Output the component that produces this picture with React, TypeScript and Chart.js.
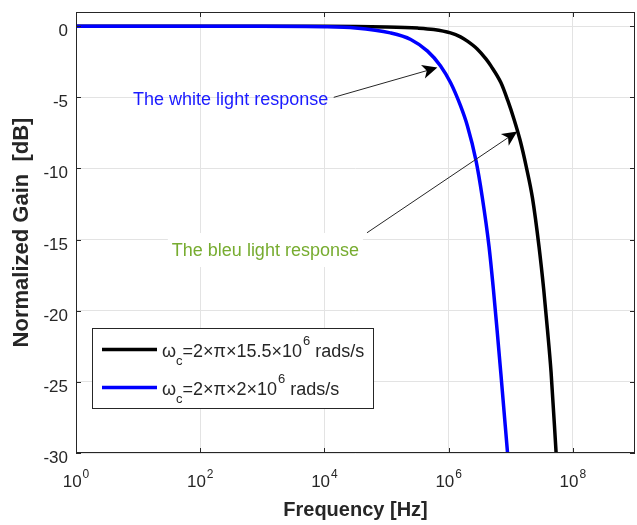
import React, { useEffect, useRef } from "react";
import { Chart, registerables } from "chart.js";
Chart.register(...registerables);

// ---- data ----
const blackFreq = [1, 1e4, 1e5, 3.16e5, 5.75e5, 1.07e6, 1.55e6, 2.0e6, 2.88e6, 3.98e6, 4.79e6, 6.92e6, 8.91e6, 1.12e7, 1.41e7, 1.78e7, 2.24e7, 2.85e7, 3.39e7, 3.89e7, 4.45e7, 5.37e7];
const blackGain = [0, 0, -0.05, -0.13, -0.23, -0.47, -0.75, -1.05, -1.6, -2.3, -2.79, -3.96, -5.2, -6.5, -8.0, -9.9, -12.1, -15.5, -18.5, -21.3, -24.3, -30];
const blueFreq = [1, 1e3, 1e4, 3.16e4, 1.15e5, 2.45e5, 4.57e5, 7.41e5, 1.07e6, 1.55e6, 2.0e6, 2.75e6, 3.47e6, 4.47e6, 5.25e6, 6.03e6, 6.92e6, 8.87e6];
const blueGain = [0, 0, -0.03, -0.12, -0.47, -0.93, -1.75, -2.79, -3.96, -5.59, -7.0, -9.43, -12.0, -15.5, -18.5, -21.4, -24.4, -30];

const xTickValues = [1, 1e2, 1e4, 1e6, 1e8];
const xTickExponents = ["0", "2", "4", "6", "8"];
const yTickValues = [-30, -25, -20, -15, -10, -5, 0];

// legend label pieces: base, subscript, middle, superscript, tail
const blackLabel = ["ω", "c", "=2×π×15.5×10", "6", " rads/s"];
const blueLabel = ["ω", "c", "=2×π×2×10", "6", " rads/s"];

const whiteText = "The white light response";
const whiteTextPos = [8.3, -5.17];
const bleuText = "The bleu light response";
const bleuTextPos = [34.9, -15.8];
const arrow1 = [[1.41e4, -5.0], [6.58e5, -2.91]];
const arrow2 = [[4.84e4, -14.52], [1.27e7, -7.4]];

const FONT = "'Liberation Sans', Arial, Helvetica, sans-serif";
const AXIS = "#262626";

function drawArrow(ctx: CanvasRenderingContext2D, x0: number, y0: number, x1: number, y1: number) {
  const dx = x1 - x0, dy = y1 - y0;
  const len = Math.hypot(dx, dy);
  const ux = dx / len, uy = dy / len;
  const nx = -uy, ny = ux;
  ctx.strokeStyle = AXIS;
  ctx.lineWidth = 1;
  ctx.beginPath();
  ctx.moveTo(x0, y0);
  ctx.lineTo(x1 - ux * 10, y1 - uy * 10);
  ctx.stroke();
  ctx.fillStyle = "#000";
  ctx.beginPath();
  ctx.moveTo(x1, y1);
  ctx.lineTo(x1 - ux * 15 + nx * 7, y1 - uy * 15 + ny * 7);
  ctx.lineTo(x1 - ux * 11, y1 - uy * 11);
  ctx.lineTo(x1 - ux * 15 - nx * 7, y1 - uy * 15 - ny * 7);
  ctx.closePath();
  ctx.fill();
}

const decor = {
  id: "decor",
  afterDatasetsDraw(chart: any) {
    const ctx: CanvasRenderingContext2D = chart.ctx;
    const { left, right, top, bottom } = chart.chartArea;
    const xs = chart.scales.x, ys = chart.scales.y;
    ctx.save();

    // annotation texts
    ctx.textBaseline = "middle";
    ctx.textAlign = "left";
    ctx.font = `18px ${FONT}`;
    {
      const x = xs.getPixelForValue(bleuTextPos[0]);
      const y = ys.getPixelForValue(bleuTextPos[1]);
      const w = ctx.measureText(bleuText).width;
      ctx.fillStyle = "#fff";
      ctx.fillRect(x - 4, y - 18, w + 8, 34);
      ctx.fillStyle = "#77ac30";
      ctx.fillText(bleuText, x, y);
    }
    {
      const x = xs.getPixelForValue(whiteTextPos[0]);
      const y = ys.getPixelForValue(whiteTextPos[1]);
      ctx.fillStyle = "#1a1aff";
      ctx.fillText(whiteText, x, y);
    }
    for (const a of [arrow1, arrow2]) {
      drawArrow(ctx, xs.getPixelForValue(a[0][0]), ys.getPixelForValue(a[0][1]), xs.getPixelForValue(a[1][0]), ys.getPixelForValue(a[1][1]));
    }

    // legend
    const bx = left + 16, by = bottom - 125, bw = 281, bh = 80;
    ctx.fillStyle = "#fff";
    ctx.fillRect(bx, by, bw, bh);
    ctx.strokeStyle = AXIS;
    ctx.lineWidth = 1;
    ctx.strokeRect(bx + 0.5, by + 0.5, bw, bh);
    const labels = [blackLabel, blueLabel];
    chart.data.datasets.forEach((ds: any, i: number) => {
      const ly = by + 21.5 + i * 38;
      ctx.strokeStyle = ds.borderColor;
      ctx.lineWidth = 3.5;
      ctx.beginPath();
      ctx.moveTo(bx + 10, ly);
      ctx.lineTo(bx + 65, ly);
      ctx.stroke();
      const parts = labels[i];
      const base = ly + 7;
      let tx = bx + 70;
      ctx.fillStyle = AXIS;
      ctx.textBaseline = "alphabetic";
      ctx.font = `18px ${FONT}`;
      ctx.fillText(parts[0], tx, base);
      tx += ctx.measureText(parts[0]).width;
      ctx.font = `13px ${FONT}`;
      ctx.fillText(parts[1], tx, base + 8);
      tx += ctx.measureText(parts[1]).width;
      ctx.font = `18px ${FONT}`;
      ctx.fillText(parts[2], tx, base);
      tx += ctx.measureText(parts[2]).width + 1;
      ctx.font = `13px ${FONT}`;
      ctx.fillText(parts[3], tx, base - 12);
      tx += ctx.measureText(parts[3]).width;
      ctx.font = `18px ${FONT}`;
      ctx.fillText(parts[4], tx, base);
    });

    // axes box + inward ticks
    ctx.strokeStyle = AXIS;
    ctx.lineWidth = 1;
    ctx.strokeRect(left + 0.5, top + 0.5, right - left - 1, bottom - top - 1);
    ctx.beginPath();
    xTickValues.forEach((v) => {
      const px = Math.round(xs.getPixelForValue(v)) + 0.5;
      ctx.moveTo(px, bottom);
      ctx.lineTo(px, bottom - 5);
      ctx.moveTo(px, top);
      ctx.lineTo(px, top + 5);
    });
    yTickValues.forEach((v) => {
      const py = Math.round(ys.getPixelForValue(v)) + 0.5;
      ctx.moveTo(left, py);
      ctx.lineTo(left + 5, py);
      ctx.moveTo(right, py);
      ctx.lineTo(right - 5, py);
    });
    ctx.stroke();

    // tick labels
    ctx.fillStyle = AXIS;
    ctx.textBaseline = "alphabetic";
    ctx.textAlign = "left";
    xTickValues.forEach((v, i) => {
      const px = xs.getPixelForValue(v);
      ctx.font = `17px ${FONT}`;
      const wb = ctx.measureText("10").width;
      ctx.font = `12px ${FONT}`;
      const we = ctx.measureText(xTickExponents[i]).width;
      const sx = px - (wb + we + 1) / 2;
      ctx.font = `17px ${FONT}`;
      ctx.fillText("10", sx, bottom + 34);
      ctx.font = `12px ${FONT}`;
      ctx.fillText(xTickExponents[i], sx + wb + 1, bottom + 25);
    });
    ctx.textAlign = "right";
    ctx.font = `17px ${FONT}`;
    yTickValues.forEach((v) => {
      const py = ys.getPixelForValue(v);
      ctx.fillText(String(v), left - 8, py + 10);
    });
    ctx.restore();
  },
};

export default function App() {
  const ref = useRef<HTMLCanvasElement | null>(null);
  useEffect(() => {
    document.body.style.margin = "0";
    const toPts = (xs: number[], ys: number[]) => xs.map((x, i) => ({ x, y: ys[i] }));
    const chart = new Chart(ref.current as HTMLCanvasElement, {
      type: "line",
      data: {
        datasets: [
          { label: "black", data: toPts(blackFreq, blackGain), borderColor: "#000000", borderWidth: 3.5, pointRadius: 0, cubicInterpolationMode: "monotone", fill: false, order: 1 },
          { label: "blue", data: toPts(blueFreq, blueGain), borderColor: "#0000ff", borderWidth: 3.5, pointRadius: 0, cubicInterpolationMode: "monotone", fill: false, order: 0 },
        ],
      },
      options: {
        animation: false,
        responsive: false,
        devicePixelRatio: 1,
        layout: { padding: { top: 12, right: 2, left: 0, bottom: 0 } },
        plugins: { legend: { display: false }, tooltip: { enabled: false } },
        scales: {
          x: {
            type: "logarithmic",
            min: 1,
            max: 1e9,
            afterBuildTicks: (s: any) => { s.ticks = xTickValues.map((v) => ({ value: v })); },
            afterFit: (s: any) => { s.height = 72; },
            ticks: { display: false },
            grid: { color: "#e3e3e3", drawTicks: false },
            border: { display: false },
            title: { display: true, text: "Frequency [Hz]", color: AXIS, font: { family: FONT, size: 20, weight: "bold" }, padding: { top: 0, bottom: 3 } },
          },
          y: {
            type: "linear",
            min: -30,
            max: 1,
            afterBuildTicks: (s: any) => { s.ticks = yTickValues.map((v) => ({ value: v })); },
            afterFit: (s: any) => { s.width = 76; },
            ticks: { display: false },
            grid: { color: "#e3e3e3", drawTicks: false },
            border: { display: false },
            title: { display: true, text: "Normalized Gain  [dB]", color: AXIS, font: { family: FONT, size: 22, weight: "bold" }, padding: { top: 9, bottom: 0 } },
          },
        },
      },
      plugins: [decor],
    } as any);
    return () => chart.destroy();
  }, []);
  return (
    <div style={{ width: 637, height: 525 }}>
      <canvas ref={ref} width={637} height={525} style={{ display: "block" }} />
    </div>
  );
}
